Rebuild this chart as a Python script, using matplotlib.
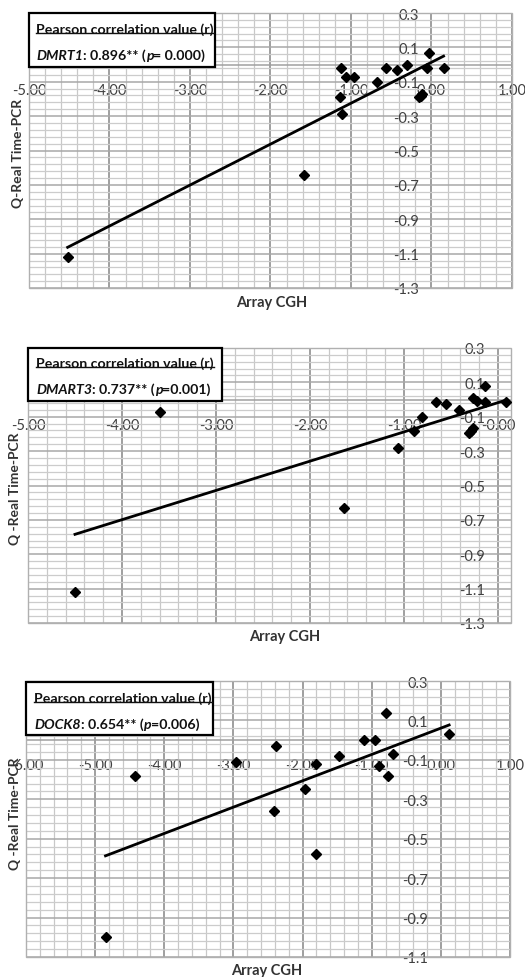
import numpy as np
import matplotlib
matplotlib.use('Agg')
import matplotlib.pyplot as plt
from matplotlib.ticker import FixedLocator
from matplotlib.patches import Rectangle
from matplotlib.lines import Line2D

plt.rcParams['font.family'] = ['Lato', 'DejaVu Sans']
plt.rcParams['axes.unicode_minus'] = False

# ---- data ----
# DMRT1
p1_x = [-4.52, -1.58, -1.12, -1.06, -0.96, -1.14, -1.11, -0.68, -0.56, -0.43,
        -0.31, -0.15, -0.12, -0.13, -0.03, -0.05, 0.15]
p1_y = [-1.12, -0.64, -0.02, -0.07, -0.07, -0.19, -0.29, -0.10, -0.02, -0.03,
        0.00, -0.19, -0.17, -0.18, 0.07, -0.02, -0.02]
# DMART3
p2_x = [-4.50, -3.60, -1.64, -1.06, -0.89, -0.81, -0.66, -0.55, -0.41, -0.26,
        -0.22, -0.14, -0.14, -0.31, -0.285, -0.26, 0.09]
p2_y = [-1.12, -0.07, -0.63, -0.28, -0.18, -0.10, -0.015, -0.026, -0.06, 0.011,
        -0.009, -0.017, 0.077, -0.195, -0.18, -0.165, -0.013]
# DOCK8
p3_x = [-4.85, -4.43, -2.96, -2.38, -2.41, -1.96, -1.81, -1.80, -1.47, -1.11,
        -0.95, -0.90, -0.79, -0.77, -0.69, 0.12]
p3_y = [-1.00, -0.18, -0.11, -0.03, -0.36, -0.25, -0.58, -0.12, -0.08, 0.00,
        0.00, -0.13, 0.14, -0.18, -0.07, 0.03]

p1_xticks = ['-5.00', '-4.00', '-3.00', '-2.00', '-1.00', '0.00', '1.00']
p2_xticks = ['-5.00', '-4.00', '-3.00', '-2.00', '-1.00', '-0.00']
p3_xticks = ['-6.00', '-5.00', '-4.00', '-3.00', '-2.00', '-1.00', '0.00', '1.00']
p1_yticks = ['0.3', '0.1', '-0.1', '-0.3', '-0.5', '-0.7', '-0.9', '-1.1', '-1.3']
p3_yticks = ['0.3', '0.1', '-0.1', '-0.3', '-0.5', '-0.7', '-0.9', '-1.1']

genes = ['DMRT1', 'DMART3', 'DOCK8']
r_text = [': 0.896** (', ': 0.737** (', ': 0.654** (']
p_text = ['= 0.000)', '=0.001)', '=0.006)']
ylabels = ['Q-Real Time-PCR', 'Q -Real Time-PCR', 'Q -Real Time-PCR']

W, H = 525, 978
fig = plt.figure(figsize=(W / 100, H / 100), dpi=100)
renderer = fig.canvas.get_renderer()


def fx(px):
    return px / W


def fy(py):
    return 1 - py / H


# layout per panel: plot rect (l, t, r, b) in pixels, box rect, label positions
panels = [
    dict(x=p1_x, y=p1_y, xt=p1_xticks, yt=p1_yticks, xlim=(-5, 1), ylim=(-1.3, 0.3),
         rect=(29, 14, 512, 289), box=(29, 14, 215, 68), t1=(36, 30), t2=(36, 56),
         xl=(272, 303), yl=(18, 153)),
    dict(x=p2_x, y=p2_y, xt=p2_xticks, yt=p1_yticks, xlim=(-5, 0.14), ylim=(-1.3, 0.3),
         rect=(28, 349, 511, 624), box=(28, 349, 222, 402), t1=(36, 364), t2=(36, 390),
         xl=(285, 637), yl=(15, 489)),
    dict(x=p3_x, y=p3_y, xt=p3_xticks, yt=p3_yticks, xlim=(-6, 1), ylim=(-1.1, 0.3),
         rect=(26, 682, 510, 958), box=(26, 683, 213, 736), t1=(34, 699), t2=(34, 725),
         xl=(267, 971), yl=(15, 814)),
]

for i, p in enumerate(panels):
    l, t, r, b = p['rect']
    ax = fig.add_axes([fx(l), fy(b), fx(r) - fx(l), fy(t) - fy(b)])
    ax.set_xlim(*p['xlim'])
    ax.set_ylim(*p['ylim'])

    xmaj = [float(s) for s in p['xt']]
    ymaj = [float(s) for s in p['yt']]
    ax.xaxis.set_major_locator(FixedLocator(xmaj))
    ax.yaxis.set_major_locator(FixedLocator(ymaj))
    ax.set_xticklabels(p['xt'])
    ax.set_yticklabels(p['yt'])
    ax.xaxis.set_minor_locator(FixedLocator(np.arange(p['xlim'][0], p['xlim'][1] + 1e-6, 0.2)))
    ax.yaxis.set_minor_locator(FixedLocator(np.arange(p['ylim'][0], p['ylim'][1] + 1e-6, 0.04)))

    ax.xaxis.grid(True, which='major', color='#8f8f8f', lw=1.2)
    ax.xaxis.grid(True, which='minor', color='#c8c8c8', lw=0.9)
    ax.yaxis.grid(True, which='major', color='#a8a8a8', lw=1.1)
    ax.yaxis.grid(True, which='minor', color='#cccccc', lw=0.9)
    ax.axhline(0, color='#a0a0a0', lw=1.1, zorder=1)
    ax.set_axisbelow(True)

    for s in ax.spines.values():
        s.set_visible(False)
    ax.spines['bottom'].set_position(('data', 0))
    ax.spines['left'].set_position(('data', 0))
    ax.tick_params(which='both', length=0, labelsize=10.5, labelcolor='#404040')
    ax.tick_params(axis='x', pad=13)
    ax.tick_params(axis='y', pad=9)
    ax.add_patch(Rectangle((0, 0), 1, 1, transform=ax.transAxes, fill=False,
                           ec='#b0b0b0', lw=1.0, clip_on=False))

    xs = np.array(p['x'])
    ys = np.array(p['y'])
    k, c = np.polyfit(xs, ys, 1)
    xx = np.array([xs.min(), xs.max()])
    ax.plot(xx, k * xx + c, color='black', lw=2.0, zorder=3)
    ax.plot(xs, ys, 'D', color='black', ms=4.8, zorder=4, clip_on=False)

    # axis titles
    fig.text(fx(p['xl'][0]), fy(p['xl'][1]), 'Array CGH', ha='center', va='center',
             fontsize=10.5, fontweight='bold', color='#333333')
    fig.text(fx(p['yl'][0]), fy(p['yl'][1]), ylabels[i], ha='center', va='center',
             rotation=90, fontsize=10, fontweight='bold', color='#333333')

    # correlation box
    bl, bt, br, bb = p['box']
    fig.add_artist(Rectangle((fx(bl), fy(bb)), fx(br) - fx(bl), fy(bt) - fy(bb),
                             transform=fig.transFigure, fc='white', ec='black',
                             lw=1.6, zorder=5))
    title = fig.text(fx(p['t1'][0]), fy(p['t1'][1]), 'Pearson correlation value (r)',
                     ha='left', va='center', fontsize=10.2, fontweight='bold',
                     color='#111111', zorder=6)
    ext = title.get_window_extent(renderer)
    fig.add_artist(Line2D([ext.x0 / W, ext.x1 / W], [(ext.y0 + 2.5) / H] * 2,
                          transform=fig.transFigure, color='#111111', lw=1.0, zorder=6))

    xpos = p['t2'][0]
    runs = [(genes[i], 'italic'), (r_text[i], 'normal'), ('p', 'italic'), (p_text[i], 'normal')]
    for s, st in runs:
        tt = fig.text(fx(xpos), fy(p['t2'][1]), s, ha='left', va='center', fontsize=10.2,
                      fontweight='bold', fontstyle=st, color='#111111', zorder=6)
        xpos += tt.get_window_extent(renderer).width

fig.savefig('out.png', dpi=100, facecolor='white')
